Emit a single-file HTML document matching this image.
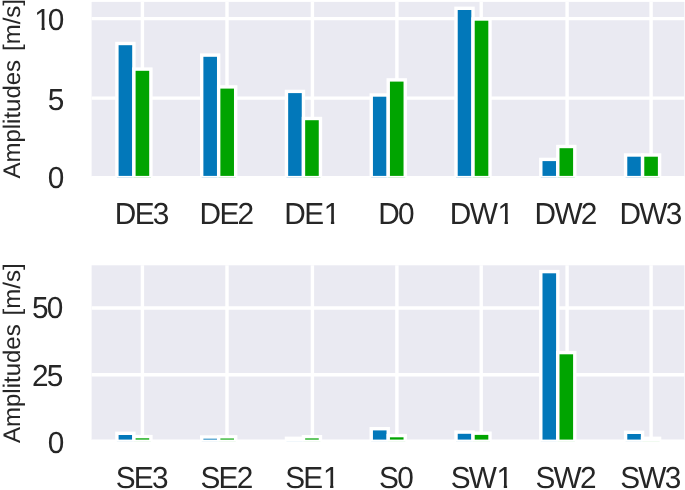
<!DOCTYPE html>
<html><head><meta charset="utf-8"><title>Amplitudes</title>
<style>
html,body{margin:0;padding:0;background:#fff;}
svg{display:block;}
text{text-rendering:geometricPrecision;font-family:"Liberation Sans",Arial,Helvetica,sans-serif;fill:#262626;}
.t{font-size:29.8px;letter-spacing:-1.7px;}
.yl{font-size:24.0px;word-spacing:2.2px;}
</style></head><body>
<svg width="685" height="490" viewBox="0 0 685 490">
<rect width="685" height="490" fill="#fff"/>
<clipPath id="c0"><rect x="91.6" y="1.9" width="592.80" height="175.70"/></clipPath>
<rect x="91.6" y="1.9" width="592.80" height="174.50" fill="#EAEAF2"/>
<g clip-path="url(#c0)">
<path d="M142.40 -3.1V182.6M227.00 -3.1V182.6M312.40 -3.1V182.6M396.90 -3.1V182.6M481.20 -3.1V182.6M567.10 -3.1V182.6M651.10 -3.1V182.6M86.6 177.60H689.4M86.6 98.10H689.4M86.6 18.63H689.4" stroke="#fff" stroke-width="3.4" fill="none"/>
<rect x="116.90" y="43.50" width="17.00" height="134.10" fill="#0278BA" stroke="#fff" stroke-width="3.4"/>
<rect x="133.90" y="69.10" width="17.00" height="108.50" fill="#00A400" stroke="#fff" stroke-width="3.4"/>
<rect x="201.68" y="55.10" width="17.00" height="122.50" fill="#0278BA" stroke="#fff" stroke-width="3.4"/>
<rect x="218.68" y="86.90" width="17.00" height="90.70" fill="#00A400" stroke="#fff" stroke-width="3.4"/>
<rect x="286.46" y="91.40" width="17.00" height="86.20" fill="#0278BA" stroke="#fff" stroke-width="3.4"/>
<rect x="303.46" y="118.50" width="17.00" height="59.10" fill="#00A400" stroke="#fff" stroke-width="3.4"/>
<rect x="371.24" y="95.00" width="17.00" height="82.60" fill="#0278BA" stroke="#fff" stroke-width="3.4"/>
<rect x="388.24" y="79.90" width="17.00" height="97.70" fill="#00A400" stroke="#fff" stroke-width="3.4"/>
<rect x="456.02" y="8.30" width="17.00" height="169.30" fill="#0278BA" stroke="#fff" stroke-width="3.4"/>
<rect x="473.02" y="19.00" width="17.00" height="158.60" fill="#00A400" stroke="#fff" stroke-width="3.4"/>
<rect x="540.80" y="159.40" width="17.00" height="18.20" fill="#0278BA" stroke="#fff" stroke-width="3.4"/>
<rect x="557.80" y="146.50" width="17.00" height="31.10" fill="#00A400" stroke="#fff" stroke-width="3.4"/>
<rect x="625.58" y="155.00" width="17.00" height="22.60" fill="#0278BA" stroke="#fff" stroke-width="3.4"/>
<rect x="642.58" y="155.00" width="17.00" height="22.60" fill="#00A400" stroke="#fff" stroke-width="3.4"/>
</g>
<g transform="translate(62.70 188.08) scale(1 1.02)"><text class="t" x="-14.87">0</text></g>
<g transform="translate(62.70 109.58) scale(1 1.02)"><text class="t" x="-14.87">5</text></g>
<g transform="translate(62.70 30.11) scale(1 1.02)"><text class="t" x="-29.75"><tspan dx="1.38">1</tspan><tspan dx="-1.38">0</tspan></text><path d="M-27.09 -3.6H-21.22V1.5H-27.09ZM-17.89 -3.6H-12.25V1.5H-17.89Z" fill="#fff"/></g>
<g transform="translate(141.25 224.00) scale(1 1.02)"><text class="t" x="-26.44">DE3</text></g>
<g transform="translate(226.03 224.00) scale(1 1.02)"><text class="t" x="-26.44">DE2</text></g>
<g transform="translate(310.81 224.00) scale(1 1.02)"><text class="t" x="-26.44">DE<tspan dx="1.38">1</tspan></text><path d="M14.21 -3.6H20.09V1.5H14.21ZM23.42 -3.6H29.06V1.5H23.42Z" fill="#fff"/></g>
<g transform="translate(395.59 224.00) scale(1 1.02)"><text class="t" x="-17.35">D0</text></g>
<g transform="translate(480.37 224.00) scale(1 1.02)"><text class="t" x="-30.56">DW<tspan dx="1.38">1</tspan></text><path d="M18.34 -3.6H24.21V1.5H18.34ZM27.55 -3.6H33.19V1.5H27.55Z" fill="#fff"/></g>
<g transform="translate(565.15 224.00) scale(1 1.02)"><text class="t" x="-30.56">DW2</text></g>
<g transform="translate(649.93 224.00) scale(1 1.02)"><text class="t" x="-30.56">DW3</text></g>
<text class="yl" transform="translate(19.7 178.6) rotate(-90)" x="0" y="0">Amplitudes [m/s]</text>
<clipPath id="c1"><rect x="91.6" y="265.3" width="592.80" height="176.00"/></clipPath>
<rect x="91.6" y="265.3" width="592.80" height="174.80" fill="#EAEAF2"/>
<g clip-path="url(#c1)">
<path d="M142.40 260.3V446.3M227.00 260.3V446.3M312.40 260.3V446.3M396.90 260.3V446.3M481.20 260.3V446.3M567.10 260.3V446.3M651.10 260.3V446.3M86.6 441.30H689.4M86.6 374.70H689.4M86.6 308.00H689.4" stroke="#fff" stroke-width="3.4" fill="none"/>
<rect x="116.90" y="433.30" width="17.00" height="8.00" fill="#0278BA" stroke="#fff" stroke-width="3.4"/>
<rect x="133.90" y="436.60" width="17.00" height="4.70" fill="#00A400" stroke="#fff" stroke-width="3.4"/>
<rect x="201.68" y="437.00" width="17.00" height="4.30" fill="#0278BA" stroke="#fff" stroke-width="3.4"/>
<rect x="218.68" y="436.80" width="17.00" height="4.50" fill="#00A400" stroke="#fff" stroke-width="3.4"/>
<rect x="286.46" y="438.30" width="17.00" height="3.00" fill="#0278BA" stroke="#fff" stroke-width="3.4"/>
<rect x="303.46" y="436.70" width="17.00" height="4.60" fill="#00A400" stroke="#fff" stroke-width="3.4"/>
<rect x="371.24" y="428.70" width="17.00" height="12.60" fill="#0278BA" stroke="#fff" stroke-width="3.4"/>
<rect x="388.24" y="435.60" width="17.00" height="5.70" fill="#00A400" stroke="#fff" stroke-width="3.4"/>
<rect x="456.02" y="432.10" width="17.00" height="9.20" fill="#0278BA" stroke="#fff" stroke-width="3.4"/>
<rect x="473.02" y="433.20" width="17.00" height="8.10" fill="#00A400" stroke="#fff" stroke-width="3.4"/>
<rect x="540.80" y="271.60" width="17.00" height="169.70" fill="#0278BA" stroke="#fff" stroke-width="3.4"/>
<rect x="557.80" y="352.60" width="17.00" height="88.70" fill="#00A400" stroke="#fff" stroke-width="3.4"/>
<rect x="625.58" y="432.30" width="17.00" height="9.00" fill="#0278BA" stroke="#fff" stroke-width="3.4"/>
<rect x="642.58" y="438.30" width="17.00" height="3.00" fill="#00A400" stroke="#fff" stroke-width="3.4"/>
</g>
<g transform="translate(62.70 452.78) scale(1 1.02)"><text class="t" x="-14.87">0</text></g>
<g transform="translate(61.70 385.78) scale(1 1.02)"><text class="t" x="-29.75">25</text></g>
<g transform="translate(61.70 318.18) scale(1 1.02)"><text class="t" x="-29.75">50</text></g>
<g transform="translate(141.25 488.00) scale(1 1.02)"><text class="t" x="-25.61">SE3</text></g>
<g transform="translate(226.03 488.00) scale(1 1.02)"><text class="t" x="-25.61">SE2</text></g>
<g transform="translate(310.81 488.00) scale(1 1.02)"><text class="t" x="-25.61">SE<tspan dx="1.38">1</tspan></text><path d="M13.39 -3.6H19.27V1.5H13.39ZM22.60 -3.6H28.24V1.5H22.60Z" fill="#fff"/></g>
<g transform="translate(395.59 488.00) scale(1 1.02)"><text class="t" x="-16.52">S0</text></g>
<g transform="translate(480.37 488.00) scale(1 1.02)"><text class="t" x="-29.74">SW<tspan dx="1.38">1</tspan></text><path d="M17.52 -3.6H23.39V1.5H17.52ZM26.72 -3.6H32.37V1.5H26.72Z" fill="#fff"/></g>
<g transform="translate(565.15 488.00) scale(1 1.02)"><text class="t" x="-29.74">SW2</text></g>
<g transform="translate(649.93 488.00) scale(1 1.02)"><text class="t" x="-29.74">SW3</text></g>
<text class="yl" transform="translate(19.7 443.0) rotate(-90)" x="0" y="0">Amplitudes [m/s]</text>
</svg>
</body></html>
